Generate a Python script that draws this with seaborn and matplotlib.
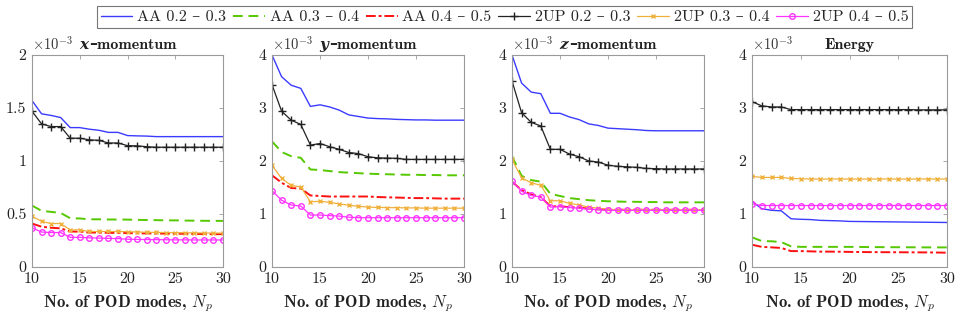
import numpy as np
import pandas as pd
import matplotlib
matplotlib.use("Agg")
import matplotlib.pyplot as plt
from matplotlib.offsetbox import TextArea, HPacker, AnchoredOffsetbox
import seaborn as sns

sns.set_style("white")
plt.rcParams['font.family'] = ['cmr10', 'DejaVu Serif']
plt.rcParams['mathtext.fontset'] = 'cm'
plt.rcParams['axes.formatter.use_mathtext'] = True
plt.rcParams['axes.unicode_minus'] = False

# ---- data (values in units of 1e-3) ----
n_modes = list(range(10, 31))

series_names = ["AA 0.2 – 0.3", "AA 0.3 – 0.4", "AA 0.4 – 0.5",
                "2UP 0.2 – 0.3", "2UP 0.3 – 0.4", "2UP 0.4 – 0.5"]

title_vars = ["x", "y", "z", ""]
title_words = ["–momentum", "–momentum", "–momentum", "Energy"]

# x-momentum
xm_aa23 = [1.57, 1.445, 1.43, 1.41, 1.315, 1.315, 1.30, 1.29, 1.27, 1.27, 1.24,
           1.237, 1.235, 1.23, 1.23, 1.23, 1.23, 1.23, 1.23, 1.23, 1.23]
xm_aa34 = [0.58, 0.53, 0.52, 0.51, 0.46, 0.458, 0.45, 0.45, 0.448, 0.448, 0.447,
           0.445, 0.443, 0.442, 0.44, 0.44, 0.438, 0.437, 0.436, 0.435, 0.435]
xm_aa45 = [0.41, 0.38, 0.37, 0.365, 0.335, 0.333, 0.325, 0.325, 0.322, 0.322, 0.32,
           0.318, 0.317, 0.316, 0.315, 0.314, 0.313, 0.312, 0.311, 0.31, 0.31]
xm_up23 = [1.47, 1.35, 1.325, 1.325, 1.215, 1.215, 1.20, 1.195, 1.17, 1.17, 1.145,
           1.143, 1.135, 1.13, 1.13, 1.13, 1.13, 1.13, 1.13, 1.13, 1.13]
xm_up34 = [0.48, 0.43, 0.41, 0.41, 0.35, 0.35, 0.335, 0.335, 0.335, 0.335, 0.333,
           0.33, 0.328, 0.326, 0.325, 0.324, 0.323, 0.322, 0.321, 0.32, 0.32]
xm_up45 = [0.37, 0.33, 0.325, 0.325, 0.28, 0.28, 0.275, 0.273, 0.27, 0.268, 0.262,
           0.26, 0.259, 0.258, 0.257, 0.256, 0.256, 0.255, 0.255, 0.255, 0.255]

# y-momentum
ym_aa23 = [4.0, 3.59, 3.43, 3.37, 3.03, 3.06, 3.02, 2.96, 2.87, 2.84, 2.81,
           2.80, 2.795, 2.785, 2.78, 2.775, 2.775, 2.77, 2.77, 2.77, 2.77]
ym_aa34 = [2.37, 2.17, 2.09, 2.06, 1.84, 1.83, 1.81, 1.79, 1.78, 1.77, 1.76,
           1.755, 1.75, 1.745, 1.74, 1.74, 1.735, 1.735, 1.73, 1.73, 1.73]
ym_aa45 = [1.73, 1.59, 1.49, 1.48, 1.35, 1.34, 1.33, 1.33, 1.33, 1.33, 1.33,
           1.32, 1.315, 1.31, 1.305, 1.30, 1.30, 1.295, 1.29, 1.29, 1.29]
ym_up23 = [3.44, 2.94, 2.77, 2.69, 2.30, 2.33, 2.27, 2.22, 2.16, 2.14, 2.08,
           2.06, 2.055, 2.05, 2.03, 2.03, 2.03, 2.03, 2.03, 2.03, 2.03]
ym_up34 = [1.92, 1.67, 1.54, 1.51, 1.23, 1.24, 1.22, 1.19, 1.165, 1.145, 1.13,
           1.125, 1.12, 1.12, 1.115, 1.115, 1.11, 1.11, 1.11, 1.11, 1.11]
ym_up45 = [1.44, 1.26, 1.17, 1.15, 0.98, 0.98, 0.97, 0.96, 0.94, 0.93, 0.93,
           0.93, 0.93, 0.93, 0.93, 0.93, 0.93, 0.93, 0.93, 0.93, 0.93]

# z-momentum
zm_aa23 = [4.0, 3.47, 3.30, 3.27, 2.90, 2.90, 2.83, 2.78, 2.70, 2.67, 2.62,
           2.61, 2.60, 2.59, 2.575, 2.57, 2.57, 2.57, 2.57, 2.57, 2.57]
zm_aa34 = [2.09, 1.72, 1.64, 1.61, 1.38, 1.34, 1.30, 1.28, 1.26, 1.25, 1.24,
           1.235, 1.23, 1.23, 1.225, 1.225, 1.22, 1.22, 1.22, 1.22, 1.22]
zm_aa45 = [1.61, 1.45, 1.37, 1.32, 1.145, 1.145, 1.13, 1.12, 1.10, 1.09, 1.08,
           1.08, 1.08, 1.08, 1.08, 1.08, 1.08, 1.08, 1.08, 1.08, 1.08]
zm_up23 = [3.51, 2.91, 2.73, 2.66, 2.22, 2.22, 2.13, 2.08, 2.00, 1.98, 1.92,
           1.90, 1.89, 1.88, 1.86, 1.855, 1.85, 1.85, 1.85, 1.85, 1.85]
zm_up34 = [2.03, 1.68, 1.59, 1.54, 1.25, 1.25, 1.20, 1.17, 1.13, 1.11, 1.09,
           1.08, 1.08, 1.08, 1.08, 1.08, 1.08, 1.08, 1.08, 1.08, 1.08]
zm_up45 = [1.62, 1.43, 1.35, 1.32, 1.13, 1.14, 1.12, 1.11, 1.09, 1.08, 1.07,
           1.07, 1.07, 1.07, 1.07, 1.07, 1.07, 1.07, 1.07, 1.07, 1.07]

# energy
en_aa23 = [1.24, 1.10, 1.07, 1.06, 0.91, 0.90, 0.895, 0.88, 0.875, 0.87, 0.86,
           0.858, 0.856, 0.854, 0.852, 0.85, 0.848, 0.846, 0.844, 0.842, 0.84]
en_aa34 = [0.56, 0.49, 0.485, 0.47, 0.39, 0.38, 0.38, 0.38, 0.38, 0.38, 0.38,
           0.378, 0.376, 0.375, 0.374, 0.373, 0.372, 0.371, 0.37, 0.37, 0.37]
en_aa45 = [0.42, 0.38, 0.37, 0.36, 0.30, 0.30, 0.295, 0.29, 0.29, 0.288, 0.285,
           0.283, 0.281, 0.28, 0.279, 0.278, 0.277, 0.276, 0.275, 0.273, 0.27]
en_up23 = [3.12, 3.04, 3.02, 3.02, 2.97, 2.97, 2.97, 2.97, 2.97, 2.97, 2.97,
           2.97, 2.97, 2.97, 2.97, 2.97, 2.97, 2.965, 2.965, 2.965, 2.965]
en_up34 = [1.71, 1.69, 1.69, 1.69, 1.67, 1.665, 1.66, 1.66, 1.66, 1.66, 1.66,
           1.66, 1.66, 1.66, 1.66, 1.66, 1.66, 1.66, 1.66, 1.66, 1.66]
en_up45 = [1.19, 1.16, 1.16, 1.16, 1.16, 1.16, 1.16, 1.16, 1.16, 1.16, 1.16,
           1.16, 1.16, 1.16, 1.16, 1.16, 1.16, 1.16, 1.16, 1.16, 1.16]

panel_data = [
    [xm_aa23, xm_aa34, xm_aa45, xm_up23, xm_up34, xm_up45],
    [ym_aa23, ym_aa34, ym_aa45, ym_up23, ym_up34, ym_up45],
    [zm_aa23, zm_aa34, zm_aa45, zm_up23, zm_up34, zm_up45],
    [en_aa23, en_aa34, en_aa45, en_up23, en_up34, en_up45],
]
panel_ymax = [2, 4, 4, 4]
panel_yticks = [[0, 0.5, 1, 1.5, 2], [0, 1, 2, 3, 4], [0, 1, 2, 3, 4], [0, 1, 2, 3, 4]]
panel_yticklabels = [["0", "0.5", "1", "1.5", "2"], ["0", "1", "2", "3", "4"],
                     ["0", "1", "2", "3", "4"], ["0", "1", "2", "3", "4"]]
x_ticks = [10, 15, 20, 25, 30]

# ---- styles ----
colors = ["#3b3bff", "#55c800", "#ff1010", "#222222", "#f0b03c", "#ff33ff"]
styles = [
    dict(linestyle="-", marker=None, linewidth=1.0),
    dict(linestyle=(0, (5, 3)), marker=None, linewidth=1.4),
    dict(linestyle=(0, (5, 1.5, 1.5, 1.5)), marker=None, linewidth=1.4),
    dict(linestyle="-", marker="+", markersize=6, markeredgewidth=1.0, linewidth=0.9),
    dict(linestyle="-", marker="x", markersize=3.5, markeredgewidth=1.0, linewidth=0.9),
    dict(linestyle="-", marker="o", markersize=4, markerfacecolor="none",
         markeredgewidth=1.0, linewidth=0.9),
]

fig = plt.figure(figsize=(9.55, 3.2), dpi=100)
W, H = 955, 320
ax_px = [(32, 223), (272, 464), (512, 704), (752, 947)]
top_px, bot_px = 55, 267

spine_col = "#9a9a9a"
txt_col = "#222222"
axes = []
for i, (l, r) in enumerate(ax_px):
    ax = fig.add_axes([l / W, (H - bot_px) / H, (r - l) / W, (bot_px - top_px) / H])
    axes.append(ax)
    for j, name in enumerate(series_names):
        df = pd.DataFrame({"N": n_modes, "v": panel_data[i][j]})
        st = dict(styles[j])
        sns.lineplot(data=df, x="N", y="v", ax=ax, label=name, color=colors[j],
                     markeredgecolor=colors[j], **st)
    ax.set_xlim(10, 30)
    ax.set_ylim(0, panel_ymax[i])
    ax.set_xticks(x_ticks)
    ax.set_xticklabels([str(t) for t in x_ticks])
    ax.set_yticks(panel_yticks[i])
    ax.set_yticklabels(panel_yticklabels[i])
    ax.tick_params(direction="in", length=3, width=0.6, colors=spine_col,
                   labelcolor=txt_col, labelsize=11.5, top=True, right=True,
                   pad=4)
    for sp in ax.spines.values():
        sp.set_color(spine_col)
        sp.set_linewidth(0.8)
    ax.set_xlabel(r"No. of POD modes, $\boldsymbol{N_p}$", family="cmb10",
                  fontsize=12, labelpad=5, color=txt_col)
    ax.set_ylabel("")

    # title: bold italic variable + bold word, centred above the axes
    parts = []
    if title_vars[i]:
        parts.append(TextArea(title_vars[i], textprops=dict(
            family="DejaVu Serif", style="italic", weight="bold",
            fontsize=11, color=txt_col)))
    parts.append(TextArea(title_words[i], textprops=dict(
        family=["cmb10", "DejaVu Serif"], weight="bold", fontsize=11.5,
        color=txt_col)))
    pack = HPacker(children=parts, sep=0.5, pad=0, align="baseline")
    anch = AnchoredOffsetbox(loc="lower center", child=pack, pad=0, borderpad=0,
                             frameon=False, bbox_to_anchor=(0.5, 1.012),
                             bbox_transform=ax.transAxes)
    ax.add_artist(anch)

    ax.text(0.0, 1.012, r"$\times10^{-3}$", transform=ax.transAxes,
            fontsize=10.5, ha="left", va="bottom", color="#333333")
    ax.get_legend().remove()

handles, labels = axes[0].get_legend_handles_labels()
leg = fig.legend(handles, labels, loc="upper center", ncol=6,
                 bbox_to_anchor=(0.5283, 1.006), frameon=True, fontsize=11.5,
                 handlelength=2.0, handletextpad=0.3, columnspacing=0.42,
                 borderpad=0.25, fancybox=False, edgecolor="#555555")
leg.get_frame().set_linewidth(0.8)

fig.savefig("out.png", dpi=100)
